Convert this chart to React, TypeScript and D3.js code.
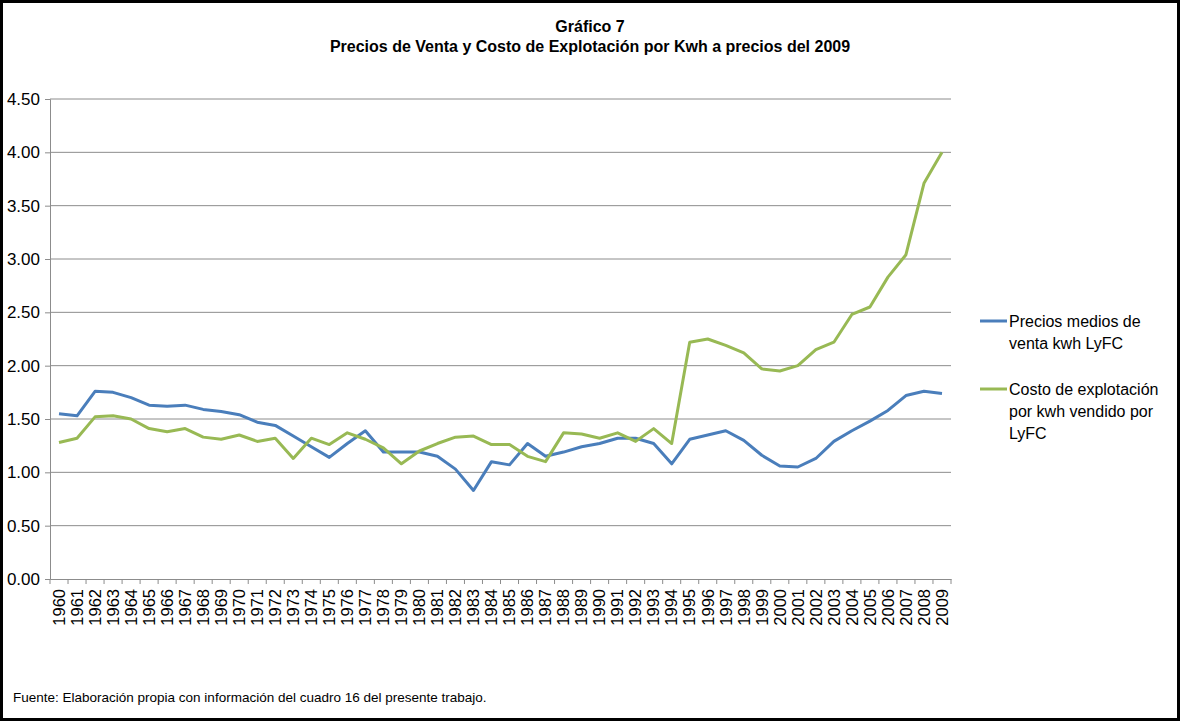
import * as d3 from 'd3';
import React, { useEffect, useRef } from 'react';

const years = d3.range(1960, 2010).map(String);

const precioVenta = [
  1.55, 1.53, 1.76, 1.75, 1.70, 1.63, 1.62, 1.63, 1.59, 1.57,
  1.54, 1.47, 1.44, 1.34, 1.24, 1.14, 1.27, 1.39, 1.19, 1.19,
  1.19, 1.15, 1.03, 0.83, 1.10, 1.07, 1.27, 1.15, 1.19, 1.24,
  1.27, 1.32, 1.32, 1.27, 1.08, 1.31, 1.35, 1.39, 1.30, 1.16,
  1.06, 1.05, 1.13, 1.29, 1.39, 1.48, 1.58, 1.72, 1.76, 1.74,
];

const costoExplotacion = [
  1.28, 1.32, 1.52, 1.53, 1.50, 1.41, 1.38, 1.41, 1.33, 1.31,
  1.35, 1.29, 1.32, 1.13, 1.32, 1.26, 1.37, 1.31, 1.23, 1.08,
  1.20, 1.27, 1.33, 1.34, 1.26, 1.26, 1.15, 1.10, 1.37, 1.36,
  1.32, 1.37, 1.29, 1.41, 1.27, 2.22, 2.25, 2.19, 2.12, 1.97,
  1.95, 2.00, 2.15, 2.22, 2.48, 2.55, 2.83, 3.04, 3.71, 4.00,
];

const yTicks = [0, 0.5, 1, 1.5, 2, 2.5, 3, 3.5, 4, 4.5];

const series = [
  { name: ['Precios medios de', 'venta kwh LyFC'], values: precioVenta, color: '#4a7ebb' },
  { name: ['Costo de explotación', 'por kwh vendido por', 'LyFC'], values: costoExplotacion, color: '#98b954' },
];

const Chart: React.FC = () => {
  const ref = useRef<SVGSVGElement | null>(null);

  useEffect(() => {
    const width = 1180;
    const height = 721;
    const left = 50;
    const right = 951;
    const top = 99;
    const bottom = 579;

    const svg = d3.select(ref.current)
      .attr('width', width)
      .attr('height', height);
    svg.selectAll('*').remove();

    svg.append('rect')
      .attr('x', 1.5).attr('y', 1.5)
      .attr('width', width - 3).attr('height', height - 3)
      .attr('fill', 'white')
      .attr('stroke', 'black')
      .attr('stroke-width', 3);

    const x = d3.scaleBand<string>().domain(years).range([left, right]);
    const y = d3.scaleLinear().domain([0, 4.5]).range([bottom, top]);

    const sans = '"Liberation Sans", Arial, sans-serif';

    // titulo
    svg.append('text')
      .attr('x', 590).attr('y', 32)
      .attr('text-anchor', 'middle')
      .style('font-family', sans).style('font-weight', 'bold').style('font-size', '16px')
      .text('Gráfico 7');
    svg.append('text')
      .attr('x', 590).attr('y', 52)
      .attr('text-anchor', 'middle')
      .style('font-family', sans).style('font-weight', 'bold').style('font-size', '16px')
      .text('Precios de Venta y Costo de Explotación por Kwh a precios del 2009');

    // grid
    svg.append('g')
      .selectAll('line')
      .data(yTicks.filter(d => d > 0))
      .enter()
      .append('line')
      .attr('x1', left).attr('x2', right)
      .attr('y1', d => y(d)).attr('y2', d => y(d))
      .attr('stroke', '#8c8c8c')
      .attr('stroke-width', 1);

    // eje y
    const yAxis = svg.append('g')
      .attr('transform', `translate(${left},0)`)
      .call(d3.axisLeft(y).tickValues(yTicks).tickFormat(d3.format('.2f')).tickSize(5).tickPadding(5));
    yAxis.select('.domain').attr('stroke', '#8c8c8c');
    yAxis.selectAll('.tick line').attr('stroke', '#8c8c8c');
    yAxis.selectAll('.tick text')
      .style('font-family', sans).style('font-size', '17px').attr('fill', 'black');

    // eje x
    const xAxis = svg.append('g')
      .attr('transform', `translate(0,${bottom})`)
      .call(d3.axisBottom(x).tickSize(0).tickPadding(0));
    xAxis.select('.domain').attr('stroke', '#8c8c8c');
    xAxis.selectAll('.tick text')
      .attr('transform', 'rotate(-90)')
      .attr('x', -10)
      .attr('y', 0)
      .attr('dy', '0.35em')
      .attr('text-anchor', 'end')
      .style('font-family', sans).style('font-size', '16.5px').attr('fill', 'black');
    svg.append('g')
      .selectAll('line')
      .data([...years.map(d => x(d) as number), right])
      .enter()
      .append('line')
      .attr('x1', d => d).attr('x2', d => d)
      .attr('y1', bottom).attr('y2', bottom + 5)
      .attr('stroke', '#8c8c8c');

    // lineas
    const line = d3.line<number>()
      .x((_d, i) => (x(years[i]) as number) + x.bandwidth() / 2)
      .y(d => y(d));

    series.forEach(s => {
      svg.append('path')
        .datum(s.values)
        .attr('d', line)
        .attr('fill', 'none')
        .attr('stroke', s.color)
        .attr('stroke-width', 3)
        .attr('stroke-linejoin', 'round');
    });

    // leyenda
    const legendY = [321, 389];
    series.forEach((s, i) => {
      const g = svg.append('g');
      g.append('line')
        .attr('x1', 980).attr('x2', 1007)
        .attr('y1', legendY[i]).attr('y2', legendY[i])
        .attr('stroke', s.color).attr('stroke-width', 3);
      s.name.forEach((t, j) => {
        g.append('text')
          .attr('x', 1009).attr('y', legendY[i] + j * 22 + 6)
          .style('font-family', sans).style('font-size', '16px')
          .text(t);
      });
    });

    // fuente
    svg.append('text')
      .attr('x', 13).attr('y', 702)
      .style('font-family', sans).style('font-size', '13.5px')
      .text('Fuente: Elaboración propia con información del cuadro 16 del presente trabajo.');
  }, []);

  return <svg ref={ref} style={{ position: 'absolute', left: 0, top: 0, display: 'block' }}></svg>;
};

export default function App() {
  return <Chart />;
}
